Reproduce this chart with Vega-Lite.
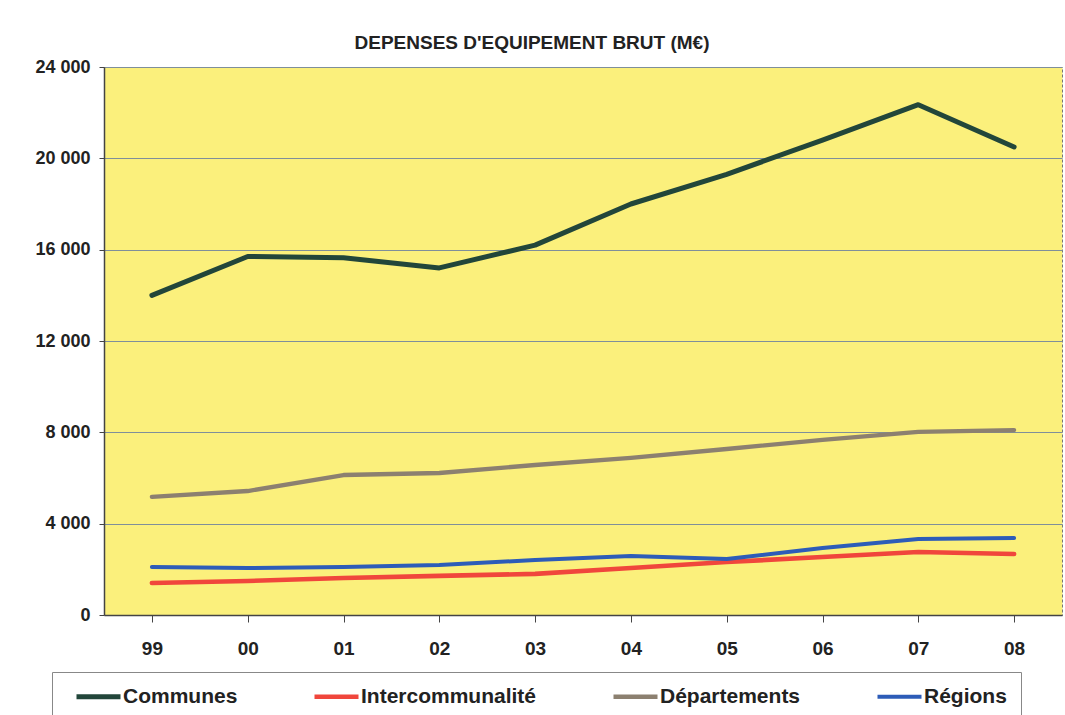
{
  "$schema": "https://vega.github.io/schema/vega-lite/v6.json",
  "autosize": {"type": "none"},
  "width": 958,
  "height": 548,
  "padding": {"left": 104, "top": 67, "right": 3, "bottom": 100},
  "background": "#ffffff",
  "title": {
    "text": "DEPENSES D'EQUIPEMENT BRUT (M€)",
    "font": "Liberation Sans",
    "fontSize": 19,
    "fontWeight": "bold",
    "color": "#222222",
    "anchor": "middle",
    "frame": "group",
    "baseline": "alphabetic",
    "offset": 17,
    "dx": -51,
    "dy": 27
  },
  "config": {
    "view": {"fill": "#fbf07c", "stroke": "#777777", "strokeWidth": 1, "strokeDash": [3, 2]},
    "axis": {"labelFont": "Liberation Sans", "labelFontWeight": "bold", "labelColor": "#222222", "domainColor": "#444444", "tickColor": "#444444"}
  },
  "data": {
    "values": [
      {"annee": "99", "serie": "Communes", "valeur": 14000},
      {"annee": "00", "serie": "Communes", "valeur": 15700},
      {"annee": "01", "serie": "Communes", "valeur": 15650},
      {"annee": "02", "serie": "Communes", "valeur": 15200},
      {"annee": "03", "serie": "Communes", "valeur": 16200},
      {"annee": "04", "serie": "Communes", "valeur": 18000},
      {"annee": "05", "serie": "Communes", "valeur": 19300},
      {"annee": "06", "serie": "Communes", "valeur": 20800},
      {"annee": "07", "serie": "Communes", "valeur": 22350},
      {"annee": "08", "serie": "Communes", "valeur": 20500},
      {"annee": "99", "serie": "Intercommunalité", "valeur": 1400},
      {"annee": "00", "serie": "Intercommunalité", "valeur": 1490},
      {"annee": "01", "serie": "Intercommunalité", "valeur": 1620},
      {"annee": "02", "serie": "Intercommunalité", "valeur": 1710},
      {"annee": "03", "serie": "Intercommunalité", "valeur": 1800},
      {"annee": "04", "serie": "Intercommunalité", "valeur": 2060},
      {"annee": "05", "serie": "Intercommunalité", "valeur": 2320},
      {"annee": "06", "serie": "Intercommunalité", "valeur": 2540},
      {"annee": "07", "serie": "Intercommunalité", "valeur": 2760},
      {"annee": "08", "serie": "Intercommunalité", "valeur": 2670},
      {"annee": "99", "serie": "Départements", "valeur": 5170},
      {"annee": "00", "serie": "Départements", "valeur": 5430},
      {"annee": "01", "serie": "Départements", "valeur": 6130},
      {"annee": "02", "serie": "Départements", "valeur": 6220},
      {"annee": "03", "serie": "Départements", "valeur": 6570},
      {"annee": "04", "serie": "Départements", "valeur": 6880},
      {"annee": "05", "serie": "Départements", "valeur": 7270},
      {"annee": "06", "serie": "Départements", "valeur": 7670},
      {"annee": "07", "serie": "Départements", "valeur": 8020},
      {"annee": "08", "serie": "Départements", "valeur": 8100},
      {"annee": "99", "serie": "Régions", "valeur": 2100},
      {"annee": "00", "serie": "Régions", "valeur": 2060},
      {"annee": "01", "serie": "Régions", "valeur": 2100},
      {"annee": "02", "serie": "Régions", "valeur": 2190},
      {"annee": "03", "serie": "Régions", "valeur": 2410},
      {"annee": "04", "serie": "Régions", "valeur": 2580},
      {"annee": "05", "serie": "Régions", "valeur": 2450},
      {"annee": "06", "serie": "Régions", "valeur": 2930},
      {"annee": "07", "serie": "Régions", "valeur": 3330},
      {"annee": "08", "serie": "Régions", "valeur": 3370}
    ]
  },
  "mark": {"type": "line", "strokeCap": "round", "strokeJoin": "round"},
  "encoding": {
    "x": {
      "field": "annee",
      "type": "nominal",
      "sort": null,
      "scale": {"domain": ["99", "00", "01", "02", "03", "04", "05", "06", "07", "08"], "paddingInner": 0, "paddingOuter": 0},
      "axis": {"title": null, "labelAngle": 0, "labelFontSize": 19, "bandPosition": 0, "tickSize": 7, "labelPadding": 17, "grid": false, "domainWidth": 1.5}
    },
    "y": {
      "field": "valeur",
      "type": "quantitative",
      "scale": {"domain": [0, 24000], "nice": false},
      "axis": {"title": null, "values": [0, 4000, 8000, 12000, 16000, 20000, 24000], "labelExpr": "replace(format(datum.value, ',d'), ',', ' ')", "labelFontSize": 18, "tickSize": 5, "labelPadding": 9, "grid": true, "gridColor": "#7f8f9a", "gridWidth": 1, "domainWidth": 1.5}
    },
    "strokeWidth": {
      "field": "serie",
      "type": "nominal",
      "scale": {"domain": ["Communes", "Intercommunalité", "Départements", "Régions"], "range": [5, 4, 3, 4]},
      "legend": null
    },
    "color": {
      "field": "serie",
      "type": "nominal",
      "scale": {"domain": ["Communes", "Intercommunalité", "Départements", "Régions"], "range": ["#22463a", "#f0463c", "#8c8070", "#2d5cb8"]},
      "legend": {
        "title": null,
        "orient": "none",
        "legendX": -52,
        "legendY": 605,
        "direction": "horizontal",
        "columns": 4,
        "symbolType": "M0,0H5.5",
        "symbolSize": 256,
        "symbolStrokeWidth": 4,
        "labelFont": "Liberation Sans",
        "labelFontSize": 21,
        "labelFontWeight": "bold",
        "labelColor": "#222222",
        "labelOffset": 36,
        "columnPadding": 66,
        "padding": 14,
        "strokeColor": "#888888",
        "fillColor": "#ffffff",
        "labelLimit": 400
      }
    }
  }
}
